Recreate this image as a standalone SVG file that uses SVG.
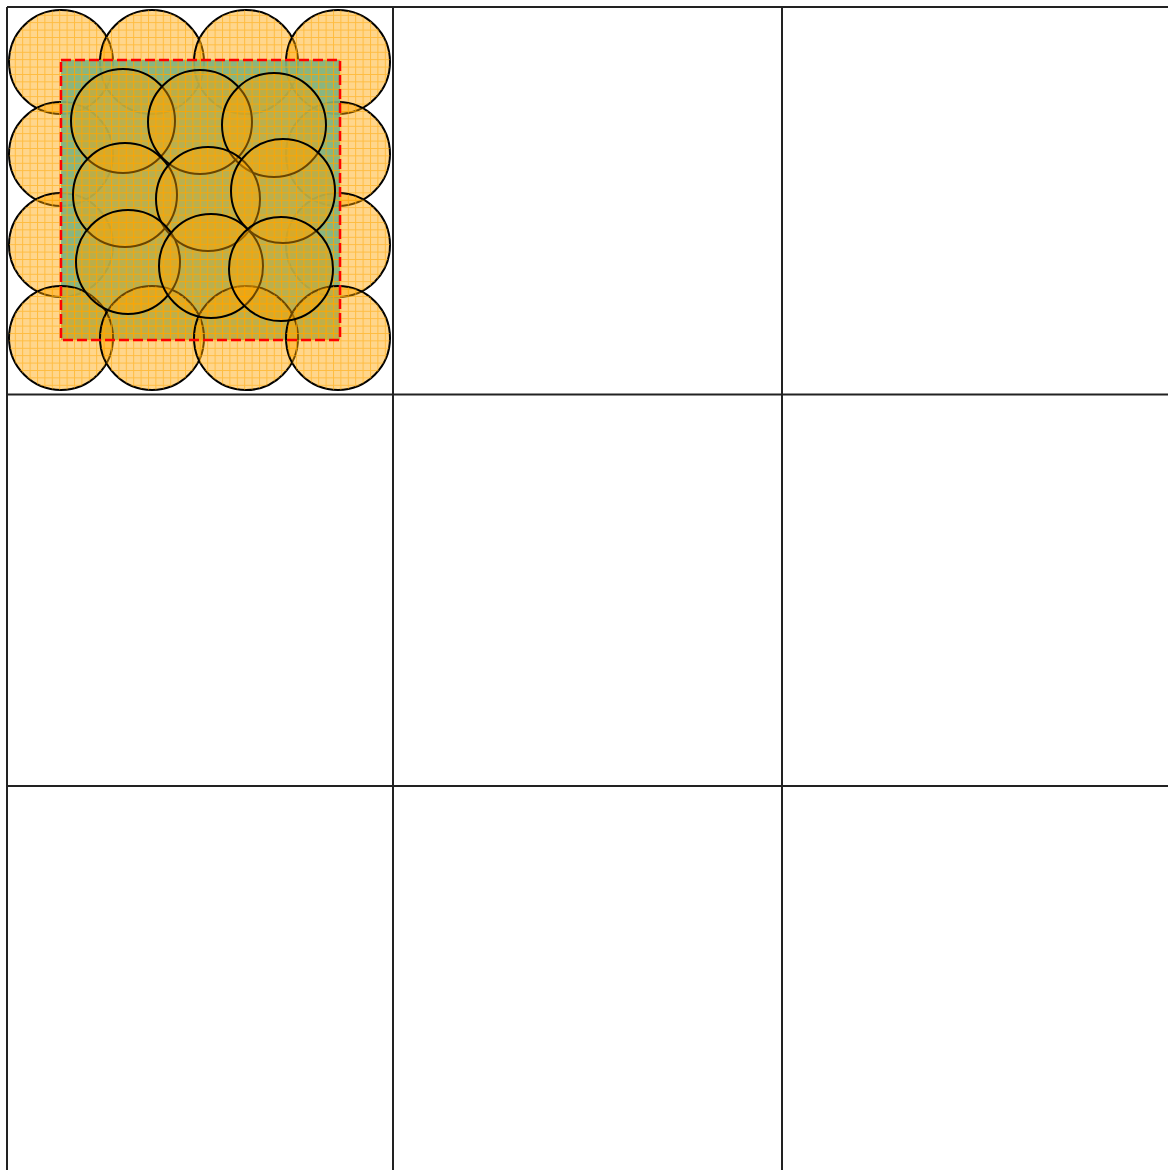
<svg xmlns="http://www.w3.org/2000/svg" width="1168" height="1170" viewBox="0 0 1168 1170">
<defs>
<pattern id="grid" width="7.4" height="7.4" patternUnits="userSpaceOnUse">
<path d="M0 0.5H7.4M0.5 0V7.4" stroke="#ffa500" stroke-width="1" stroke-opacity="0.85" fill="none"/>
</pattern>
<pattern id="gridc" width="7.4" height="7.4" patternUnits="userSpaceOnUse">
<path d="M0 0.5H7.4M0.5 0V7.4" stroke="#ffa500" stroke-width="1" stroke-opacity="0.55" fill="none"/>
</pattern>
</defs>
<style>
.cell{fill:none;stroke:#222;stroke-width:2}
.c{fill:#ffa500;fill-opacity:0.45;stroke:#000;stroke-width:2}
.ci{fill:#ffa500;fill-opacity:0.42;stroke:#000;stroke-width:2}
.cg{fill:url(#gridc);stroke:none}
.rg{fill:url(#grid);stroke:none}
.r{fill:#7fb37f}
.rd{fill:none;stroke:#ff0000;stroke-width:2.5;stroke-dasharray:10 4}
</style>
<rect width="1168" height="1170" fill="#fff"/>
<g id="grid-lines">
<path class="cell" d="M7 7H1170M7 7V1170M393 7V1170M782 7V1170M7 394.5H1170M7 786H1170"/>
</g>
<g id="outer-circles">
<circle class="c" cx="61" cy="62" r="52"/><circle class="cg" cx="61" cy="62" r="52"/>
<circle class="c" cx="152" cy="62" r="52"/><circle class="cg" cx="152" cy="62" r="52"/>
<circle class="c" cx="246" cy="62" r="52"/><circle class="cg" cx="246" cy="62" r="52"/>
<circle class="c" cx="338" cy="62" r="52"/><circle class="cg" cx="338" cy="62" r="52"/>
<circle class="c" cx="61" cy="154" r="52"/><circle class="cg" cx="61" cy="154" r="52"/>
<circle class="c" cx="338" cy="154" r="52"/><circle class="cg" cx="338" cy="154" r="52"/>
<circle class="c" cx="61" cy="245" r="52"/><circle class="cg" cx="61" cy="245" r="52"/>
<circle class="c" cx="338" cy="245" r="52"/><circle class="cg" cx="338" cy="245" r="52"/>
</g>
<g id="area">
<rect class="r" x="61" y="60" width="279" height="280" fill-opacity="0.92"/>
<rect class="rg" x="61" y="60" width="279" height="280"/>
</g>
<g id="bottom-circles">
<circle class="c" cx="61" cy="338" r="52"/><circle class="cg" cx="61" cy="338" r="52"/>
<circle class="c" cx="152" cy="338" r="52"/><circle class="cg" cx="152" cy="338" r="52"/>
<circle class="c" cx="246" cy="338" r="52"/><circle class="cg" cx="246" cy="338" r="52"/>
<circle class="c" cx="338" cy="338" r="52"/><circle class="cg" cx="338" cy="338" r="52"/>
</g>
<g id="area-border">
<rect class="rd" x="61" y="60" width="279" height="280"/>
</g>
<g id="inner-circles">
<circle class="ci" cx="123" cy="121" r="52"/>
<circle class="ci" cx="200" cy="122" r="52"/>
<circle class="ci" cx="274" cy="125" r="52"/>
<circle class="ci" cx="125" cy="195" r="52"/>
<circle class="ci" cx="208" cy="199" r="52"/>
<circle class="ci" cx="283" cy="191" r="52"/>
<circle class="ci" cx="128" cy="262" r="52"/>
<circle class="ci" cx="211" cy="266" r="52"/>
<circle class="ci" cx="281" cy="269" r="52"/>
</g>
</svg>
